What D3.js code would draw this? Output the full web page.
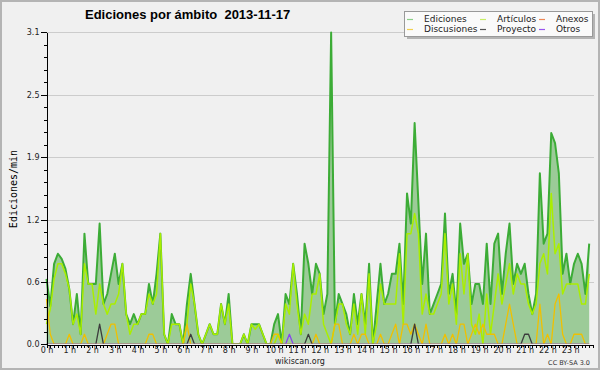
<!DOCTYPE html>
<meta charset="utf-8">
<style>
body { margin: 0; background: #f0f0f0; }
svg { display: block; }
.axis path, .axis line { stroke: #000; shape-rendering: crispEdges; }
.axis text { font-family: "DejaVu Sans", sans-serif; font-size: 8px; fill: #222; }
.grid line { stroke: #cccccc; shape-rendering: crispEdges; }
</style>
<svg width="600" height="370"></svg>
<script src="https://d3js.org/d3.v7.min.js"></script>
<script>

// hour labels for the x axis (one slot = 10 minutes, 6 slots per hour)
var hourLabels = ["0 h","1 h","2 h","3 h","4 h","5 h","6 h","7 h","8 h","9 h","10 h","11 h",
                  "12 h","13 h","14 h","15 h","16 h","17 h","18 h","19 h","20 h","21 h","22 h","23 h"];
var yTicks = [0, 0.62, 1.24, 1.86, 2.48, 3.1];

// edits per minute, 6 values per hour
var ediciones = [
  0.65,0.38,0.8,0.9,0.85,0.75,  0.55,0.2,0.5,0.1,1.1,0.6,   0.6,0.6,1.2,0.4,0.5,0.7,   0.9,0.6,0.8,0.3,0.2,0.3,
  0.2,0.3,0.3,0.6,0.4,0.7,      1.1,0.1,0,0.3,0.2,0.2,      0,0.4,0.7,0.4,0.1,0,       0.1,0.2,0.1,0.1,0.4,0.2,
  0.5,0,0,0,0.1,0,              0.2,0.2,0.2,0.1,0,0,        0.2,0.3,0,0.5,0.4,0.8,     0.5,0.1,1.0,0.8,0.5,0.8,
  0.7,0.3,0.5,3.1,0.2,0.5,      0.4,0.3,0.1,0.5,0.2,0.5,    0.2,0.8,0,0.4,0.8,0.4,     0.5,0.7,0.7,1.0,0.4,1.5,
  1.2,2.2,1.4,0.6,1.1,0.3,      0.4,0.5,0.6,1.3,0.5,0.7,    0.3,1.2,0.8,0.9,0.4,0.6,   0.6,0.4,1.0,0.4,1.0,1.1,
  0.5,0.9,1.2,0.6,0.8,0.7,      0.8,0.5,0.3,0.5,1.7,1.0,    1.1,2.1,2.0,1.7,0.7,0.9,   0.6,0.8,0.9,0.8,0.5,1.0
];
var articulos = [
  0.2,0.35,0.65,0.8,0.8,0.7,    0.55,0.2,0.3,0.1,0.8,0.6,   0.6,0.3,0.6,0.4,0.3,0.4,   0.4,0.5,0.8,0.3,0.1,0.2,
  0.2,0.3,0.3,0.5,0.4,0.5,      1.1,0.1,0,0.2,0.2,0.2,      0,0.2,0.6,0.4,0.1,0,       0.1,0.2,0.1,0.1,0.4,0.2,
  0.4,0,0,0,0.1,0,              0.2,0.15,0.2,0.1,0,0,       0,0.1,0,0.4,0.3,0.8,       0.4,0.1,0.3,0.2,0.5,0.5,
  0.7,0.2,0.1,0,0.2,0.4,        0.4,0.2,0.1,0.4,0.1,0.5,    0.1,0.7,0,0.2,0.6,0.4,     0.4,0.4,0.4,0.9,0.2,1.1,
  1.1,1.3,1.1,0.3,0.5,0.3,      0.3,0.4,0.5,1.1,0.4,0.6,    0.2,0.9,0.5,0.9,0.2,0.1,   0.3,0,0.5,0.1,0.4,0.7,
  0.4,0.6,0.8,0.5,0.7,0.6,      0.6,0.4,0.3,0.4,0.8,0.9,    0.7,1.5,0.9,1.0,0.5,0.6,   0.6,0.6,0.6,0.4,0.4,0.7
];
var anexos = [
  0,0,0,0,0,0,  0,0,0,0,0,0,  0,0,0,0,0,0,  0,0,0,0,0,0,
  0,0,0,0,0,0,  0,0,0,0,0,0,  0,0,0,0,0,0,  0,0,0,0,0,0,
  0,0,0,0,0,0,  0,0,0,0,0,0,  0,0,0,0,0,0,  0,0,0,0,0,0,
  0,0,0,0,0,0,  0,0,0,0,0,0,  0,0,0,0,0,0,  0,0,0,0,0,0,
  0,0,0,0,0,0,  0,0,0,0,0,0,  0,0,0,0,0,0,  0,0,0,0,0,0,
  0,0,0,0,0,0,  0,0,0,0,0,0,  0,0,0,0,0,0,  0,0,0,0,0,0
];
var discusiones = [
  0.45,0.1,0,0,0,0,  0.1,0,0,0,0.1,0,    0,0,0,0,0.1,0.2,    0.2,0,0,0,0,0,
  0,0,0,0.1,0.1,0,   0,0,0,0,0,0,        0,0.2,0,0,0,0,      0,0,0,0,0,0,
  0,0,0,0,0,0,       0,0,0,0,0,0,        0.1,0.1,0,0,0,0,    0,0,0,0,0,0.1,
  0,0,0,0,0.2,0.2,   0,0,0,0.1,0,0.1,    0.1,0,0,0,0.1,0,    0,0.1,0.2,0,0.2,0.2,
  0.1,0.2,0.1,0,0.2,0, 0,0,0,0.1,0,0.1,  0,0.2,0.2,0,0.1,0.2, 0.1,0.2,0.1,0.1,0.1,0,
  0,0.2,0.4,0.2,0,0, 0,0,0,0,0.4,0,      0.1,0,0.4,0.5,0.1,0, 0,0.1,0.1,0.1,0,0
];
var proyecto = [
  0,0,0,0,0,0,  0,0,0,0,0,0,  0,0,0.2,0,0,0,  0,0,0,0,0,0,
  0,0,0,0,0,0,  0,0,0,0,0,0,  0,0,0.1,0,0,0,  0,0,0,0,0,0,
  0,0,0,0,0,0,  0,0,0,0,0,0,  0,0,0,0,0,0,    0,0,0,0.1,0,0,
  0,0,0,0,0,0,  0,0,0,0,0,0,  0,0,0,0,0,0,    0,0,0,0,0,0,
  0,0.2,0,0,0,0, 0,0,0,0,0,0, 0,0,0,0,0,0,    0,0,0,0,0,0,
  0,0,0,0,0,0,  0.1,0.1,0,0,0,0, 0,0,0,0,0,0, 0,0,0,0,0,0
];
var otros = [
  0,0,0,0,0,0,  0,0,0,0,0,0,  0,0,0,0,0,0,  0,0,0,0,0,0,
  0,0,0,0,0,0,  0,0,0,0,0,0,  0,0,0,0,0,0,  0,0,0,0,0,0,
  0,0,0,0,0,0,  0,0,0,0,0,0,  0,0,0,0,0.1,0, 0,0,0,0,0,0,
  0,0,0,0,0,0,  0,0,0,0,0,0,  0,0,0,0,0,0,  0,0,0,0,0,0,
  0,0,0,0,0,0,  0,0,0,0,0,0,  0,0,0,0,0,0,  0,0,0,0,0,0,
  0,0,0,0,0,0,  0,0,0,0,0,0,  0,0,0,0,0,0,  0,0,0,0,0,0
];

var series = [
  {name: "Ediciones",   values: ediciones,   color: "#3cac36", key: "#8ccf88", width: 2},
  {name: "Artículos",   values: articulos,   color: "#aaee00", key: "#c8ee66", width: 1.5},
  {name: "Anexos",      values: anexos,      color: "#ee7744", key: "#ee8855", width: 1.3},
  {name: "Discusiones", values: discusiones, color: "#f0c000", key: "#f2d050", width: 1.3},
  {name: "Proyecto",    values: proyecto,    color: "#3c3c3c", key: "#555555", width: 1.3},
  {name: "Otros",       values: otros,       color: "#8844ee", key: "#9955ee", width: 1.3}
];

var svg = d3.select("svg");

svg.append("rect")
    .attr("x", 1).attr("y", 1).attr("width", 598).attr("height", 368)
    .attr("fill", "#f0f0f0").attr("stroke", "#b4b4b4").attr("stroke-width", 2);

var x = d3.scaleLinear().domain([0, 144]).range([46.5, 593]),
    y = d3.scaleLinear().domain([0, 3.1]).range([344.3, 32.4]);

// lines sitting at zero hide behind the x axis
svg.append("clipPath").attr("id", "plot")
  .append("rect").attr("x", 40).attr("y", 20).attr("width", 560).attr("height", 323.7);

// grid
svg.append("g").attr("class", "grid")
  .selectAll("line").data(yTicks.slice(1)).enter().append("line")
    .attr("x1", 46).attr("x2", 594)
    .attr("y1", function(d) { return Math.round(y(d)) + 0.5; })
    .attr("y2", function(d) { return Math.round(y(d)) + 0.5; });

var plot = svg.append("g").attr("clip-path", "url(#plot)");

// area under ediciones
plot.append("path")
    .datum(ediciones)
    .attr("fill", "#9ccb98")
    .attr("d", d3.area()
        .x(function(d, i) { return x(i); })
        .y0(y(0) + 2)
        .y1(function(d) { return y(d); }));

var line = d3.line()
    .x(function(d, i) { return x(i); })
    .y(function(d) { return y(d); });

series.forEach(function(s) {
  plot.append("path")
      .datum(s.values)
      .attr("fill", "none")
      .attr("stroke", s.color)
      .attr("stroke-width", s.width)
      .attr("stroke-linejoin", "round")
      .attr("d", line);
});

// x axis, ticks every 10 min, label every hour
svg.append("g")
    .attr("class", "axis")
    .attr("transform", "translate(0," + 344.5 + ")")
    .call(d3.axisBottom(x)
        .tickValues(d3.range(0, 145))
        .tickSize(3).tickSizeOuter(0).tickPadding(0)
        .tickFormat(function(d) { return (d % 6 === 0 && d < 144) ? hourLabels[d / 6] : ""; }));

// y axis: minor then major ticks
var minor = d3.range(0, 26).map(function(k) { return k * 0.124; });
svg.append("g")
    .attr("class", "axis")
    .attr("transform", "translate(46.5,0)")
    .call(d3.axisLeft(y).tickValues(minor).tickSize(3).tickSizeOuter(0).tickFormat(""));
svg.append("g")
    .attr("class", "axis")
    .attr("transform", "translate(46.5,0)")
    .call(d3.axisLeft(y).tickValues(yTicks).tickSize(6).tickSizeOuter(0).tickPadding(1)
        .tickFormat(d3.format(".1f")))
  .select(".domain").remove();

// title
svg.append("text")
    .attr("x", 85).attr("y", 19)
    .style("font-family", "'Liberation Sans', Arial, sans-serif")
    .style("font-weight", "bold").style("font-size", "13px")
    .attr("xml:space", "preserve")
    .text("Ediciones por ámbito  2013-11-17");

// y label
svg.append("text")
    .attr("transform", "translate(17,189) rotate(-90)")
    .attr("text-anchor", "middle")
    .style("font-family", "'DejaVu Sans Mono', monospace").style("font-size", "10px")
    .text("Ediciones/min");

svg.append("text")
    .attr("x", 300).attr("y", 364).attr("text-anchor", "middle")
    .style("font-family", "'DejaVu Sans', sans-serif").style("font-size", "8px").style("fill", "#222")
    .text("wikiscan.org");
svg.append("text")
    .attr("x", 590).attr("y", 365).attr("text-anchor", "end")
    .style("font-family", "'DejaVu Sans', sans-serif").style("font-size", "6.5px").style("fill", "#333")
    .text("CC BY-SA 3.0");

// legend
var legend = svg.append("g");
legend.append("rect").attr("x", 407).attr("y", 14).attr("width", 188).attr("height", 25).attr("fill", "#b4b4b4");
legend.append("rect").attr("x", 404.5).attr("y", 11.5).attr("width", 188).attr("height", 25)
    .attr("fill", "#fafafa").attr("stroke", "#999").attr("stroke-width", 1);

var legendPos = [[407, 19], [480, 19], [539, 19], [407, 29], [480, 29], [539, 29]];
series.forEach(function(s, i) {
  var p = legendPos[i];
  legend.append("line")
      .attr("x1", p[0]).attr("x2", p[0] + 6)
      .attr("y1", p[1] + 0.5).attr("y2", p[1] + 0.5)
      .attr("stroke", s.key).attr("stroke-width", 1.2);
  legend.append("text")
      .attr("x", p[0] + 17).attr("y", p[1] + 3)
      .style("font-family", "'DejaVu Sans', sans-serif").style("font-size", "9px").style("fill", "#222")
      .text(s.name);
});

</script>
